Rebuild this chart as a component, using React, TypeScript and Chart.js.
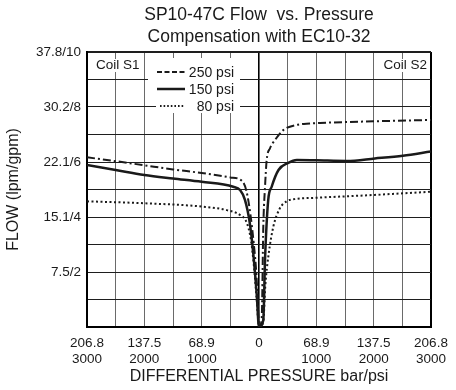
import React, { useEffect, useRef } from 'react';
import { Chart, registerables } from 'chart.js';

Chart.register(...registerables);

const FONT = '"Liberation Sans", Arial, Helvetica, sans-serif';
const INK = '#1a1a1a';

const titleLines = ['SP10-47C Flow  vs. Pressure', 'Compensation with EC10-32'];
const xAxisTitle = 'DIFFERENTIAL PRESSURE bar/psi';
const yAxisTitle = 'FLOW (lpm/gpm)';
const coilLabels = ['Coil S1', 'Coil S2'];
const seriesLabels = ['250 psi', '150 psi', '80 psi'];

// differential pressure (psi, negative = coil S1 side) / flow (gpm)
const psi250 = [-3000, -2500, -2000, -1500, -1000, -500, -300, -220, -150, -90, -45, -12, 0, 47, 75, 105, 134, 192, 279, 424, 658, 890, 1064, 2000, 3000];
const gpm250 = [6.17, 6.03, 5.88, 5.73, 5.6, 5.44, 5.32, 4.95, 4.1, 3.0, 1.9, 0.5, 0, 0.3, 3.65, 5.1, 6.07, 6.5, 6.8, 7.16, 7.35, 7.4, 7.42, 7.48, 7.53];

const psi150 = [-3000, -2500, -2000, -1500, -1000, -450, -330, -245, -160, -100, -40, 0, 75, 105, 160, 221, 340, 510, 660, 1000, 1530, 2020, 2510, 3000];
const gpm150 = [5.89, 5.71, 5.53, 5.4, 5.28, 5.1, 4.98, 4.62, 3.77, 2.68, 1.2, 0, 0.25, 2.44, 4.6, 5.1, 5.71, 5.97, 6.07, 6.06, 6.04, 6.13, 6.23, 6.38];

const psi80 = [-3000, -2000, -1000, -560, -330, -215, -140, -90, -40, 0, 75, 110, 165, 250, 360, 480, 620, 1000, 1500, 2000, 2500, 3000];
const gpm80 = [4.57, 4.5, 4.38, 4.25, 4.07, 3.8, 3.16, 2.25, 1.0, 0, 0.2, 1.5, 2.6, 3.65, 4.3, 4.57, 4.65, 4.7, 4.75, 4.8, 4.86, 4.92];

const xTickValues = [-3000, -2000, -1000, 0, 1000, 2000, 3000];
const xTickBar = ['206.8', '137.5', '68.9', '0', '68.9', '137.5', '206.8'];
const xTickPsi = ['3000', '2000', '1000', '', '1000', '2000', '3000'];
const yTickValues = [2, 4, 6, 8, 10];
const yTickLabels = ['7.5/2', '15.1/4', '22.1/6', '30.2/8', '37.8/10'];

const lineDashes = [[8, 3, 2, 3], [], [2, 2.5]];
const legendDashes = [[5, 2.5], [], [1.6, 2]];
const lineWidths = [2, 2.5, 2];

const overlay = {
  id: 'overlay',
  afterDraw(chart: any) {
    const { ctx, chartArea: a } = chart;
    ctx.save();
    ctx.fillStyle = '#fff';
    ctx.font = `13.5px ${FONT}`;
    ctx.textBaseline = 'middle';
    const cy = a.top + 13;
    // coil labels
    const w1 = ctx.measureText(coilLabels[0]).width;
    ctx.fillRect(a.left + 7, cy - 6, w1 + 4, 13);
    const w2 = ctx.measureText(coilLabels[1]).width;
    ctx.fillRect(a.right - 6 - w2, cy - 6, w2 + 4, 13);
    ctx.fillStyle = INK;
    ctx.textAlign = 'left';
    ctx.fillText(coilLabels[0], a.left + 9, cy);
    ctx.textAlign = 'right';
    ctx.fillText(coilLabels[1], a.right - 4, cy);

    // legend
    const lx0 = a.left + 70;
    const lx1 = a.left + 98;
    const tx = a.left + 147;
    ctx.fillStyle = '#fff';
    ctx.fillRect(a.left + 61, a.top + 6, 92, 43);
    ctx.fillRect(a.left + 69, a.top + 48, 84, 13);
    ctx.font = `14px ${FONT}`;
    chart.data.datasets.forEach((ds: any, i: number) => {
      const yy = a.top + 20 + i * 17;
      ctx.beginPath();
      ctx.setLineDash(legendDashes[i]);
      ctx.lineWidth = ds.borderWidth;
      ctx.strokeStyle = INK;
      ctx.moveTo(i === 2 ? lx0 + 3 : lx0, yy);
      ctx.lineTo(lx1, yy);
      ctx.stroke();
      ctx.setLineDash([]);
      ctx.fillStyle = INK;
      ctx.textAlign = 'right';
      ctx.fillText(ds.label, tx, yy + 1);
    });
    ctx.restore();
  },
};

export default function App() {
  const ref = useRef<HTMLCanvasElement>(null);
  useEffect(() => {
    document.body.style.margin = '0';
    document.body.style.overflow = 'hidden';
    const mk = (xs: number[], ys: number[]) => xs.map((x, i) => ({ x, y: ys[i] }));
    const series = [mk(psi250, gpm250), mk(psi150, gpm150), mk(psi80, gpm80)];
    const chart = new Chart(ref.current as HTMLCanvasElement, {
      type: 'line',
      data: {
        datasets: series.map((d, i) => ({
          label: seriesLabels[i],
          data: d,
          borderColor: INK,
          borderWidth: lineWidths[i],
          borderDash: lineDashes[i],
          borderCapStyle: 'butt',
          pointRadius: 0,
          cubicInterpolationMode: 'monotone',
          fill: false,
        })),
      } as any,
      options: {
        animation: false,
        responsive: true,
        maintainAspectRatio: false,
        layout: { padding: { left: 0, right: 25, top: 0, bottom: 0 } },
        plugins: {
          legend: { display: false },
          tooltip: { enabled: false },
          title: {
            display: true,
            fullSize: false,
            text: titleLines,
            color: INK,
            font: { family: FONT, size: 17.5, weight: 'normal', lineHeight: 1.25 },
            padding: { top: 4, bottom: 4.25 },
          },
        },
        scales: {
          x: {
            type: 'linear',
            min: -3000,
            max: 3000,
            afterFit: (s: any) => { s.height = 63; },
            afterBuildTicks: (s: any) => {
              const t = [];
              for (let v = -3000; v <= 3000; v += 500) t.push({ value: v });
              s.ticks = t;
            },
            ticks: {
              autoSkip: false,
              maxRotation: 0,
              padding: 8,
              color: INK,
              font: { family: FONT, size: 13.5, lineHeight: 1.2 },
              callback: (v: any) => {
                const i = xTickValues.indexOf(Number(v));
                if (i < 0) return '';
                return xTickPsi[i] ? [xTickBar[i], xTickPsi[i]] : xTickBar[i];
              },
            },
            grid: {
              drawTicks: false,
              color: (c: any) => {
                const v = c.tick ? c.tick.value : null;
                return v === 0 || v === 3000 ? '#000' : '#6a6a6a';
              },
              lineWidth: (c: any) => {
                const v = c.tick ? c.tick.value : null;
                if (v === 3000) return 2;
                if (v === 0) return 1.6;
                return 1;
              },
            },
            border: { display: true, color: '#000', width: 2 },
            title: {
              display: true,
              text: xAxisTitle,
              color: INK,
              font: { family: FONT, size: 16, lineHeight: 1.2 },
              padding: { top: 0, bottom: 3.5 },
            },
          },
          y: {
            type: 'linear',
            min: 0,
            max: 10,
            afterFit: (s: any) => { s.width = 87; },
            ticks: {
              stepSize: 1,
              autoSkip: false,
              padding: 6,
              color: INK,
              font: { family: FONT, size: 13.5 },
              callback: (v: any) => {
                const i = yTickValues.indexOf(Number(v));
                return i < 0 ? '' : yTickLabels[i];
              },
            },
            grid: {
              drawTicks: false,
              color: (c: any) => '#1e1e1e',
              lineWidth: (c: any) => (c.tick && c.tick.value === 10 ? 2 : 1),
            },
            border: { display: true, color: '#000', width: 2 },
            title: {
              display: true,
              text: yAxisTitle,
              color: INK,
              font: { family: FONT, size: 16, lineHeight: 1.2 },
              padding: { top: 4, bottom: 0 },
            },
          },
        },
      } as any,
      plugins: [overlay],
    });
    return () => chart.destroy();
  }, []);
  return (
    <div style={{ position: 'relative', width: 456, height: 390 }}>
      <canvas ref={ref} />
    </div>
  );
}
